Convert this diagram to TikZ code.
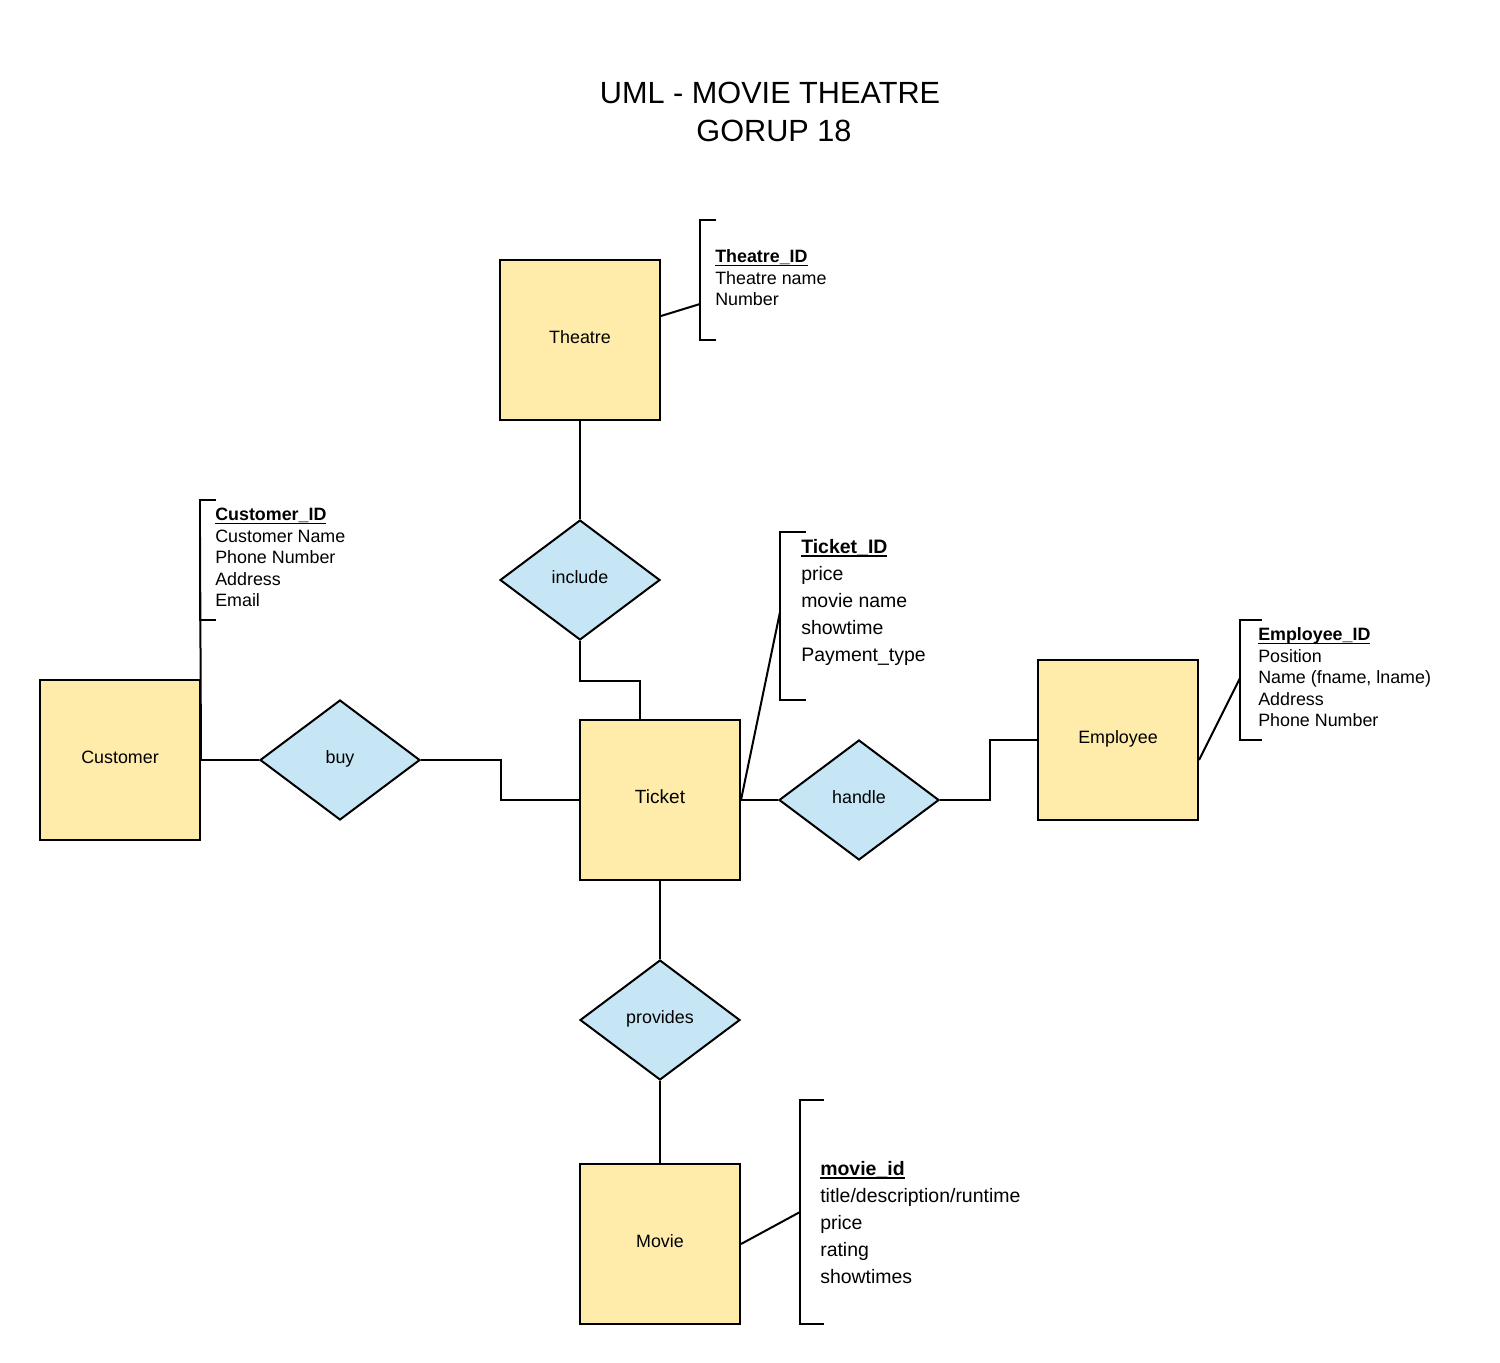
\documentclass[tikz,border=0pt]{standalone}
\usepackage{fontspec}
\setmainfont{Liberation Sans}
\usetikzlibrary{shapes.geometric,calc}
\definecolor{entfill}{RGB}{255,236,170}
\definecolor{relfill}{RGB}{198,230,246}
\newcommand\ulid[1]{\setbox0\hbox{\bfseries #1}\rlap{\rule[-0.2em]{\wd0}{0.085em}}\box0}
\tikzset{
  ent/.style={draw=black, fill=entfill, line width=1.5pt, minimum width=120pt, minimum height=120pt,
    inner sep=0pt, font=\fontsize{13.4pt}{16pt}\selectfont, text height=0.72em, text depth=0.18em},
  rel/.style={draw=black, fill=relfill, line width=1.5pt, diamond, shape aspect=1.333, minimum width=120pt,
    minimum height=90pt, inner sep=0pt, font=\fontsize{13.4pt}{16pt}\selectfont, text height=0.72em, text depth=0.18em},
  conn/.style={line width=1.5pt, draw=black},
  attr/.style={anchor=base west, inner sep=0pt, font=\fontsize{13.4pt}{16pt}\selectfont},
  attrbig/.style={anchor=base west, inner sep=0pt, font=\fontsize{14.6pt}{17pt}\selectfont},
  titletext/.style={inner sep=0pt, font=\fontsize{23pt}{28pt}\selectfont}
}
\begin{document}
\begin{tikzpicture}[x=0.75pt, y=-0.75pt]
\useasboundingbox (0,0) rectangle (1500,1363);
\fill[white] (0,0) rectangle (1500,1363);

% title
\node[titletext] (title1) at (770,93) {UML - MOVIE THEATRE};
\node[titletext] (title2) at (774,131) {GORUP 18};

% entities and relationships
\node[ent] (theatre) at (580,340) {Theatre};
\node[rel] (include) at (580,580) {include};
\node[ent] (customer) at (120,760) {Customer};
\node[rel] (buy) at (340,760) {buy};
\node[ent, font=\fontsize{14.3pt}{17pt}\selectfont] (ticket) at (660,800) {Ticket};
\node[rel] (handle) at (859,800) {handle};
\node[ent] (employee) at (1118,740) {Employee};
\node[rel] (provides) at (660,1020) {provides};
\node[ent] (movie) at (660,1244) {Movie};

% connectors
\draw[conn] (theatre.south) -- (include.north);
\draw[conn] (include.south) -- ++(0,40) -| ([xshift=-15pt]ticket.north);
\draw[conn] (customer.east) -- (buy.west);
\draw[conn] (buy.east) -- ++(80,0) |- (ticket.west);
\draw[conn] (ticket.east) -- (handle.west);
\draw[conn] (handle.east) -- ++(50,0) |- (employee.west);
\draw[conn] (ticket.south) -- (provides.north);
\draw[conn] (provides.south) -- (movie.north);

% attribute brackets
\coordinate (thA) at (700,304);
\draw[conn] (716,220) -- (700,220) -- (700,340) -- (716,340);
\draw[conn] ($(theatre.east)+(0,-24)$) -- (thA);

\coordinate (cuA) at (200,537);
\draw[conn] (216,500) -- (200,500) -- (200,620) -- (216,620);
\draw[conn] (cuA) -- (customer.east);

\coordinate (tkA) at (780,612);
\draw[conn] (806,532) -- (780,532) -- (780,700) -- (806,700);
\draw[conn] (ticket.east) -- (tkA);

\coordinate (emA) at (1240,678);
\draw[conn] (1262,620) -- (1240,620) -- (1240,740) -- (1262,740);
\draw[conn] ($(employee.east)+(0,20)$) -- (emA);

\coordinate (mvA) at (800,1212);
\draw[conn] (824,1100) -- (800,1100) -- (800,1324) -- (824,1324);
\draw[conn] (movie.east) -- (mvA);

% attribute texts
\node[attr] (th1) at (715,262.5) {\ulid{Theatre\_ID}};
\foreach \t [count=\i from 2] in {Theatre name, Number}
  \node[attr] (th\i) at (715,{262.5+21.5*(\i-1)}) {\t};

\node[attr] (cu1) at (215,520.5) {\ulid{Customer\_ID}};
\foreach \t [count=\i from 2] in {Customer Name, Phone Number, Address, Email}
  \node[attr] (cu\i) at (215,{520.5+21.5*(\i-1)}) {\t};

\node[attrbig] (tk1) at (801,553) {\ulid{Ticket\_ID}};
\foreach \t [count=\i from 2] in {price, movie name, showtime, Payment\_type}
  \node[attrbig] (tk\i) at (801,{553+27*(\i-1)}) {\t};

\node[attr] (em1) at (1258,640.5) {\ulid{Employee\_ID}};
\foreach \t [count=\i from 2] in {Position, {Name (fname, lname)}, Address, Phone Number}
  \node[attr] (em\i) at (1258,{640.5+21.5*(\i-1)}) {\t};

\node[attrbig] (mv1) at (820,1175) {\ulid{movie\_id}};
\foreach \t [count=\i from 2] in {title/description/runtime, price, rating, showtimes}
  \node[attrbig] (mv\i) at (820,{1175+27*(\i-1)}) {\t};
\end{tikzpicture}
\end{document}
